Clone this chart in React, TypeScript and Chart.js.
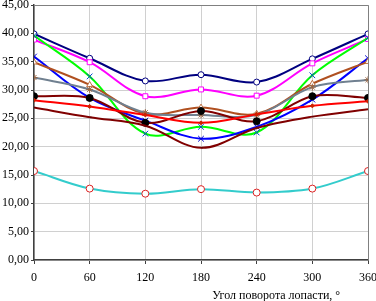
import React, { useEffect, useRef } from "react";
import { Chart, registerables } from "chart.js";

Chart.register(...registerables);

const angles = [0, 60, 120, 180, 240, 300, 360];
const yTicks = [0, 5, 10, 15, 20, 25, 30, 35, 40, 45];
const xTitle = "Угол поворота лопасти, °";

const navySeries = [39.9, 35.6, 31.6, 32.7, 31.4, 35.5, 39.9];
const magentaSeries = [38.9, 34.9, 28.9, 30.1, 29.0, 34.7, 39.0];
const greenSeries = [39.6, 32.4, 22.3, 23.5, 22.5, 32.6, 39.2];
const blueSeries = [35.9, 28.6, 24.6, 21.4, 23.5, 28.3, 35.6];
const brownSeries = [34.9, 30.9, 25.8, 26.9, 25.8, 31.1, 35.0];
const slateSeries = [32.2, 30.1, 26.0, 25.6, 25.6, 30.5, 31.8];
const blackSeries = [28.9, 28.6, 24.2, 26.3, 24.5, 28.9, 28.6];
const redSeries = [28.2, 27.1, 25.6, 24.2, 25.7, 27.2, 28.0];
const maroonSeries = [26.9, 25.2, 23.7, 19.8, 23.3, 25.3, 26.6];
const cyanSeries = [15.7, 12.6, 11.7, 12.5, 11.9, 12.6, 15.7];

const pts = (arr: number[]) => arr.map((y, i) => ({ x: angles[i], y }));

const FONT = "'Liberation Serif', 'Times New Roman', serif";

export default function App() {
  const ref = useRef<HTMLCanvasElement | null>(null);
  useEffect(() => {
    if (!ref.current) return;
    const ds = (
      data: number[],
      color: string,
      pointStyle: any,
      pointColor: string,
      pointFill: string,
      radius: number
    ) => ({
      data: pts(data),
      borderColor: color,
      borderWidth: 2,
      pointStyle,
      pointBorderColor: pointColor,
      pointBackgroundColor: pointFill,
      pointRadius: radius,
      pointBorderWidth: 1,
      tension: 0.35,
      fill: false,
    });
    const framePlugin = {
      id: "frame",
      beforeDatasetsDraw(chart: any) {
        const { ctx, chartArea } = chart;
        ctx.save();
        ctx.strokeStyle = "#808080";
        ctx.lineWidth = 1;
        ctx.beginPath();
        ctx.moveTo(chartArea.left, Math.round(chartArea.top) + 0.5);
        ctx.lineTo(Math.round(chartArea.right) + 0.5, Math.round(chartArea.top) + 0.5);
        ctx.lineTo(Math.round(chartArea.right) + 0.5, chartArea.bottom);
        ctx.stroke();
        ctx.restore();
      },
      afterDraw(chart: any) {
        const { ctx, chartArea } = chart;
        ctx.save();
        ctx.fillStyle = "#000";
        ctx.font = `12px ${FONT}`;
        ctx.textAlign = "center";
        ctx.textBaseline = "middle";
        ctx.fillText(xTitle, chartArea.left + (chartArea.right - chartArea.left) * 0.725, chart.height - 5);
        ctx.restore();
      },
    };
    const chart = new Chart(ref.current, {
      type: "line",
      data: {
        datasets: [
          ds(cyanSeries, "#33cccc", "circle", "#dd2222", "#ffffff", 3.5),
          ds(maroonSeries, "#800000", "dash", "#600000", "#600000", 2),
          ds(redSeries, "#ff0000", "rectRot", "#cc2200", "#cc2200", 2),
          ds(blackSeries, "#800000", "circle", "#000000", "#000000", 3.5),
          ds(slateSeries, "#708090", "star", "#996644", "#996644", 3.5),
          ds(brownSeries, "#b05020", "triangle", "#c07040", "#ffffff", 3.5),
          ds(blueSeries, "#0000ff", "crossRot", "#0000cc", "#0000cc", 4),
          ds(greenSeries, "#00ff00", "crossRot", "#0044cc", "#0044cc", 4),
          ds(magentaSeries, "#ff00ff", "rect", "#ff00ff", "#ffffff", 3.5),
          ds(navySeries, "#000080", "circle", "#000080", "#ffffff", 3),
        ],
      },
      options: {
        animation: false,
        responsive: false,
        maintainAspectRatio: false,
        layout: { padding: { top: 4, right: 8, left: 0, bottom: 0 } },
        plugins: { legend: { display: false }, tooltip: { enabled: false } },
        scales: {
          x: {
            type: "linear",
            min: 0,
            max: 360,
            afterBuildTicks: (axis: any) => {
              axis.ticks = angles.map((v) => ({ value: v }));
            },
            afterFit: (axis: any) => {
              axis.height = 41;
              axis.paddingLeft = 0;
              axis.paddingRight = 0;
            },
            grid: { color: "#d0d0d0", lineWidth: 1, tickLength: 4, tickColor: "#404040" },
            border: { color: "#404040", width: 1.5 },
            ticks: {
              color: "#000",
              font: { family: FONT, size: 12 },
              padding: 7,
              maxRotation: 0,
              callback: (v: any) => String(v),
            },
          },
          y: {
            type: "linear",
            min: 0,
            max: 45,
            afterBuildTicks: (axis: any) => {
              axis.ticks = yTicks.map((v) => ({ value: v }));
            },
            afterFit: (axis: any) => {
              axis.width = 34;
              axis.paddingTop = 0;
              axis.paddingBottom = 0;
            },
            grid: { color: "#d0d0d0", lineWidth: 1, tickLength: 3, tickColor: "#404040" },
            border: { color: "#404040", width: 1.5 },
            ticks: {
              color: "#000",
              font: { family: FONT, size: 12 },
              padding: 2,
              callback: (v: any) => Number(v).toFixed(2).replace(".", ","),
            },
          },
        },
      },
      plugins: [framePlugin],
    } as any);
    return () => chart.destroy();
  }, []);
  return (
    <div style={{ position: "absolute", left: 0, top: 0, width: 376, height: 301, background: "#fff" }}>
      <canvas ref={ref} width={376} height={301} style={{ display: "block", width: 376, height: 301 }} />
    </div>
  );
}
